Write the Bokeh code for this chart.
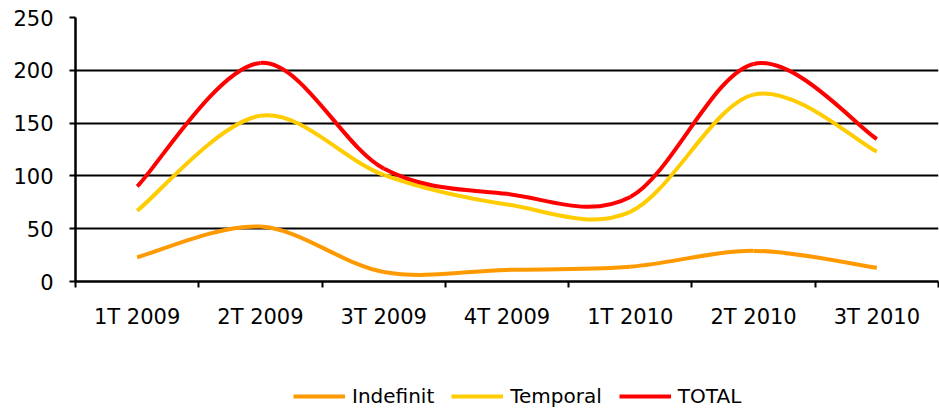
from bokeh.plotting import figure
from bokeh.layouts import column
from bokeh.models import Range1d, FixedTicker, Legend, LegendItem, ColumnDataSource
from bokeh.embed import file_html
from bokeh.resources import INLINE

categories = ["1T 2009", "2T 2009", "3T 2009", "4T 2009", "1T 2010", "2T 2010", "3T 2010"]
indefinit = [23, 52, 9, 11, 14, 29, 13]
temporal = [67, 157, 101, 73, 66, 177, 123]
total = [90, 207, 107, 83, 80, 206, 135]
y_ticks = [0, 50, 100, 150, 200, 250]

series = [("Indefinit", indefinit, "#FF9900"),
          ("Temporal", temporal, "#FFCC00"),
          ("TOTAL", total, "#FF0000")]

FONT = "DejaVu Sans"

p = figure(width=939, height=345, output_backend="svg", toolbar_location=None,
           x_range=Range1d(-0.5, len(categories) - 0.5), y_range=Range1d(0, 250),
           min_border_left=75, min_border_right=1, min_border_top=17, min_border_bottom=64)
p.outline_line_color = None
p.background_fill_color = "white"
p.border_fill_color = "white"

# axes
p.xaxis.ticker = FixedTicker(ticks=list(range(len(categories))),
                             minor_ticks=[i - 0.5 for i in range(len(categories) + 1)])
p.xaxis.major_label_overrides = {i: c for i, c in enumerate(categories)}
p.xaxis.major_tick_out = 0
p.xaxis.major_tick_in = 0
p.xaxis.minor_tick_out = 6
p.xaxis.minor_tick_in = 0
p.xaxis.minor_tick_line_color = "black"
p.xaxis.minor_tick_line_width = 2
p.xaxis.major_label_standoff = 17

p.yaxis.ticker = FixedTicker(ticks=y_ticks)
p.yaxis.major_tick_out = 6
p.yaxis.major_tick_in = 0
p.yaxis.minor_tick_line_color = None
p.yaxis.major_label_standoff = 16

for ax in (p.xaxis, p.yaxis):
    ax.axis_line_color = "black"
    ax.axis_line_width = 2.5
    ax.major_tick_line_color = "black"
    ax.major_tick_line_width = 2
    ax.major_label_text_font = FONT
    ax.major_label_text_font_size = "21px"
    ax.major_label_text_color = "black"

p.xgrid.grid_line_color = None
p.ygrid.ticker = FixedTicker(ticks=y_ticks)
p.ygrid.grid_line_color = "black"
p.ygrid.grid_line_width = 2


def bezier_source(vals):
    n = len(vals)
    d = dict(x0=[], y0=[], x1=[], y1=[], cx0=[], cy0=[], cx1=[], cy1=[])
    for i in range(n - 1):
        ip = i - 1 if i > 0 else i
        inx = i + 2 if i + 2 < n else i + 1
        d["x0"].append(i)
        d["y0"].append(vals[i])
        d["x1"].append(i + 1)
        d["y1"].append(vals[i + 1])
        d["cx0"].append(i + (i + 1 - ip) / 6)
        d["cy0"].append(vals[i] + (vals[i + 1] - vals[ip]) / 6)
        d["cx1"].append(i + 1 - (inx - i) / 6)
        d["cy1"].append(vals[i + 1] - (vals[inx] - vals[i]) / 6)
    return ColumnDataSource(d)


for name, vals, color in series:
    p.bezier(x0="x0", y0="y0", x1="x1", y1="y1", cx0="cx0", cy0="cy0",
             cx1="cx1", cy1="cy1", source=bezier_source(vals),
             line_color=color, line_width=4)

# legend strip below the chart (its lines lie outside its ranges; only the legend shows)
lg = figure(width=939, height=64, output_backend="svg", toolbar_location=None,
            x_range=Range1d(0, 1), y_range=Range1d(-2, -1),
            x_axis_type=None, y_axis_type=None,
            min_border_left=0, min_border_right=0, min_border_top=0, min_border_bottom=0)
lg.outline_line_color = None
lg.grid.visible = False
items = []
for name, vals, color in series:
    r = lg.line(x=list(range(len(vals))), y=vals, line_color=color, line_width=4)
    items.append(LegendItem(label=name, renderers=[r]))

legend = Legend(items=items, location=(218, 1), orientation="horizontal",
                glyph_width=52, glyph_height=24, label_height=24,
                label_standoff=7, spacing=17, padding=0, margin=0,
                border_line_color=None, background_fill_alpha=0,
                label_text_font=FONT, label_text_font_size="20px",
                label_text_color="black")
lg.add_layout(legend)

open("out.html", "w").write(file_html(column(p, lg), INLINE))
